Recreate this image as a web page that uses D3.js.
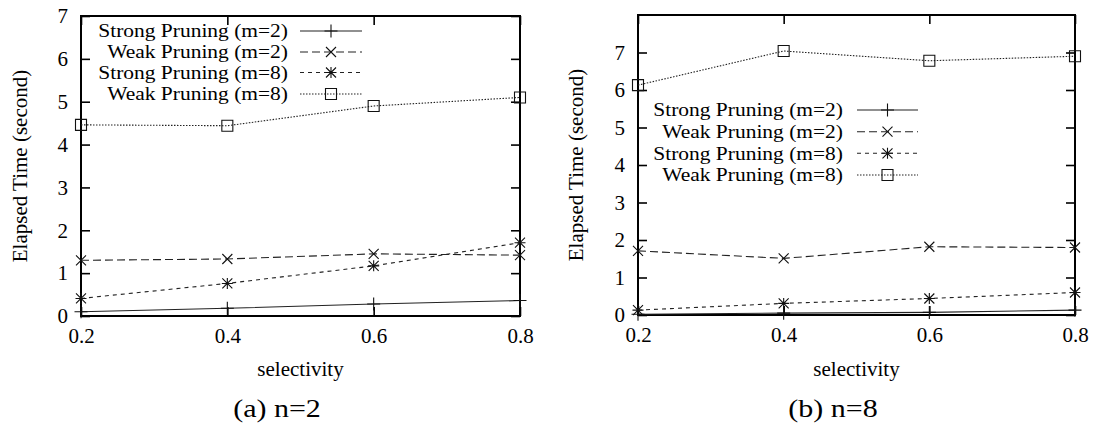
<!DOCTYPE html>
<html><head><meta charset="utf-8">
<script src="https://cdn.jsdelivr.net/npm/d3@7"></script>
<style>body{margin:0;background:#fff}svg{display:block}text{font-family:"Liberation Serif","Times New Roman",serif;fill:#000}</style>
</head><body><svg id="c" width="1096" height="428"></svg>
<script>
const selectivity = [0.2, 0.4, 0.6, 0.8];
const xTickLabels = ["0.2", "0.4", "0.6", "0.8"];
const seriesNames = ["Strong Pruning (m=2)", "Weak Pruning (m=2)", "Strong Pruning (m=8)", "Weak Pruning (m=8)"];
// panel (a) n=2
const a_strong2 = [0.10, 0.18, 0.28, 0.36];
const a_weak2   = [1.30, 1.33, 1.45, 1.42];
const a_strong8 = [0.41, 0.76, 1.17, 1.71];
const a_weak8   = [4.46, 4.44, 4.90, 5.10];
// panel (b) n=8
const b_strong2 = [0.02, 0.05, 0.07, 0.13];
const b_weak2   = [1.71, 1.51, 1.82, 1.80];
const b_strong8 = [0.13, 0.31, 0.44, 0.60];
const b_weak8   = [6.13, 7.04, 6.78, 6.90];
const yTicksA = [0,1,2,3,4,5,6,7];
const yTicksB = [0,1,2,3,4,5,6,7];
const captions = ["(a) n=2", "(b) n=8"];

const styles = [
  {dash: null, marker: "plus"},
  {dash: "8,4", marker: "cross"},
  {dash: "4,4", marker: "star"},
  {dash: "1.5,1.5", marker: "square"}
];

const svg = d3.select("#c");
const FS = 21;

function marker(g, type, cx, cy) {
  const s = 5.5;
  const p = d3.path();
  if (type === "plus" || type === "star") {
    const r = type === "plus" ? 6.5 : 5.5;
    p.moveTo(cx - r, cy); p.lineTo(cx + r, cy);
    p.moveTo(cx, cy - r); p.lineTo(cx, cy + r);
  }
  if (type === "cross" || type === "star") {
    const r = 5;
    p.moveTo(cx - r, cy - r); p.lineTo(cx + r, cy + r);
    p.moveTo(cx - r, cy + r); p.lineTo(cx + r, cy - r);
  }
  if (type === "square") {
    p.rect(cx - s, cy - s, 2 * s, 2 * s);
  }
  g.append("path").attr("d", p.toString()).attr("fill", "none")
    .attr("stroke", "#111").attr("stroke-width", 1.1);
}

function panel(cfg) {
  const {x0, x1, y0, y1, ymax, ticks, data, legend, caption, ylabX} = cfg;
  const x = d3.scaleLinear().domain([0.2, 0.8]).range([x0, x1]);
  const y = d3.scaleLinear().domain([0, ymax]).range([y1, y0]);
  const g = svg.append("g");
  const T = 9;
  const bottom = d3.axisBottom(x).tickValues(selectivity).tickFormat((d, i) => xTickLabels[i]).tickSize(-T).tickPadding(12);
  const gb = g.append("g").attr("transform", `translate(0,${y1})`).call(bottom);
  const top = d3.axisTop(x).tickValues(selectivity).tickFormat("").tickSize(-T);
  const gt = g.append("g").attr("transform", `translate(0,${y0})`).call(top);
  const left = d3.axisLeft(y).tickValues(ticks).tickFormat(d3.format("d")).tickSize(-T).tickPadding(13);
  const gl = g.append("g").attr("transform", `translate(${x0},0)`).call(left);
  const right = d3.axisRight(y).tickValues(ticks).tickFormat("").tickSize(-T);
  const gr = g.append("g").attr("transform", `translate(${x1},0)`).call(right);
  [gb, gt, gl, gr].forEach(a => {
    a.select(".domain").remove();
    a.selectAll(".tick line").attr("stroke", "#000").attr("stroke-width", 1.6);
    a.selectAll("text").style("font-size", FS + "px").attr("fill", "#000")
      .style("font-family", '"Liberation Serif", serif');
  });
  gb.selectAll("text").attr("dy", "0.71em");
  g.append("rect").attr("x", x0).attr("y", y0).attr("width", x1 - x0).attr("height", y1 - y0)
    .attr("fill", "none").attr("stroke", "#000").attr("stroke-width", 2);
  const line = d3.line().x((d, i) => x(selectivity[i])).y(d => y(d));
  data.forEach((vals, si) => {
    g.append("path").datum(vals).attr("d", line).attr("fill", "none")
      .attr("stroke", "#222").attr("stroke-width", 1.1)
      .attr("stroke-dasharray", styles[si].dash);
    vals.forEach((v, i) => marker(g, styles[si].marker, x(selectivity[i]), y(v)));
  });
  legend.rows.forEach((yy, si) => {
    g.append("text").attr("transform", `translate(${legend.textRight},${yy}) scale(1.13,1)`)
      .attr("dy", "0.33em")
      .attr("text-anchor", "end").style("font-size", "19px").text(seriesNames[si]);
    g.append("line").attr("x1", legend.l0).attr("x2", legend.l1).attr("y1", yy).attr("y2", yy)
      .attr("stroke", "#222").attr("stroke-width", 1.1).attr("stroke-dasharray", styles[si].dash);
    marker(g, styles[si].marker, (legend.l0 + legend.l1) / 2, yy);
  });
  const cx = (x0 + x1) / 2;
  g.append("text").attr("x", cx).attr("y", 376).attr("text-anchor", "middle")
    .style("font-size", FS + "px").text("selectivity");
  g.append("text").attr("transform", `translate(${ylabX},${(y0 + y1) / 2}) rotate(-90)`)
    .attr("text-anchor", "middle").attr("dy", "0.35em").style("font-size", FS + "px").text("Elapsed Time (second)");
  g.append("text").attr("transform", `translate(${caption.x},417) scale(1.2,1)`)
    .attr("text-anchor", "middle")
    .style("font-size", "25px").text(caption.text);
}

panel({x0: 81, x1: 520, y0: 16, y1: 316, ymax: 7, ticks: yTicksA,
  data: [a_strong2, a_weak2, a_strong8, a_weak8],
  legend: {textRight: 288, l0: 300, l1: 362, rows: [31, 52, 72.5, 94]},
  caption: {x: 277, text: captions[0]}, ylabX: 20});
panel({x0: 638, x1: 1075, y0: 15, y1: 315, ymax: 8, ticks: yTicksB,
  data: [b_strong2, b_weak2, b_strong8, b_weak8],
  legend: {textRight: 843, l0: 857, l1: 918, rows: [110, 131.7, 153.3, 175]},
  caption: {x: 833, text: captions[1]}, ylabX: 576});
</script></body></html>
